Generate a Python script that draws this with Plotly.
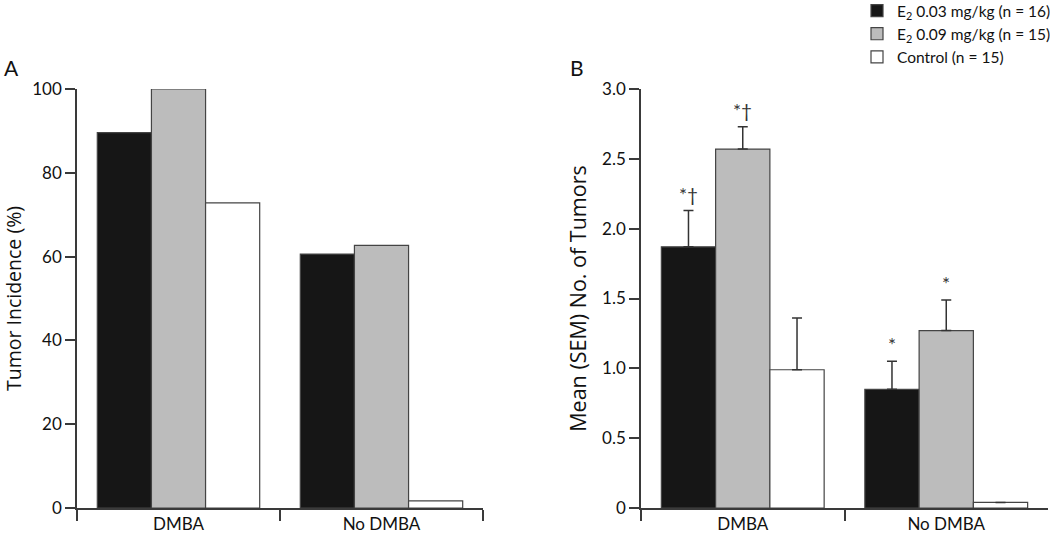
import plotly.graph_objects as go

# ---- data ----
categories = ["DMBA", "No DMBA"]
series_names = [
    "E<sub>2</sub> 0.03 mg/kg (n = 16)",
    "E<sub>2</sub> 0.09 mg/kg (n = 15)",
    "Control (n = 15)",
]
incidence_e2_low = [89.6, 60.6]
incidence_e2_high = [100.0, 62.7]
incidence_control = [72.8, 1.7]

tumors_e2_low = [1.87, 0.85]
tumors_e2_high = [2.57, 1.27]
tumors_control = [0.99, 0.04]

sem_e2_low = [0.26, 0.20]
sem_e2_high = [0.16, 0.22]
sem_control = [0.37, 0.0]

sig_e2_low = ["*†", "*"]
sig_e2_high = ["*†", "*"]
sig_control = ["", ""]

yA_ticks = [0, 20, 40, 60, 80, 100]
yA_ticktext = ["0", "20", "40", "60", "80", "100"]
yB_ticks = [0, 0.5, 1.0, 1.5, 2.0, 2.5, 3.0]
yB_ticktext = ["0", "0.5", "1.0", "1.5", "2.0", "2.5", "3.0"]

# ---- style ----
FONT = "Lato"
TFONT = "Open Sans"
colors = ["#161616", "#bcbcbc", "#ffffff"]
line_col = "#3a3a3a"
W, H = 1050, 536
ML, MR, MT, MB = 77, 2, 89, 28
PW, PH = W - ML - MR, H - MT - MB
BARGAP = 0.2


def fx(px):
    return (px - ML) / PW


def fy(py):
    return (H - MB - py) / PH


incidence = [incidence_e2_low, incidence_e2_high, incidence_control]
tumors = [tumors_e2_low, tumors_e2_high, tumors_control]
sems = [sem_e2_low, sem_e2_high, sem_control]
sigs = [sig_e2_low, sig_e2_high, sig_control]

fig = go.Figure()

for i in range(3):
    fig.add_trace(go.Bar(
        x=categories, y=incidence[i], name=series_names[i],
        marker=dict(color=colors[i], line=dict(color="#444444", width=1.2)),
        xaxis="x", yaxis="y", showlegend=True,
    ))
for i in range(3):
    fig.add_trace(go.Bar(
        x=categories, y=tumors[i], name=series_names[i],
        marker=dict(color=colors[i], line=dict(color="#444444", width=1.2)),
        error_y=dict(type="data", symmetric=False, array=sems[i],
                     arrayminus=[0] * len(sems[i]),
                     color="#333333", thickness=1.5, width=5),
        xaxis="x2", yaxis="y2", showlegend=False,
    ))

# significance markers above the error bars
bw = (1 - BARGAP) / 3
annotations = []
for i in range(3):
    for j, cat in enumerate(categories):
        if sigs[i][j]:
            annotations.append(dict(
                x=j + (i - 1) * bw, y=tumors[i][j] + sems[i][j],
                xref="x2", yref="y2", text=sigs[i][j], showarrow=False,
                yanchor="bottom", yshift=3,
                font=dict(family=FONT, size=19, color="#333333"),
            ))

annotations += [
    dict(x=fx(11), y=fy(68), xref="paper", yref="paper", text="A",
         showarrow=False, xanchor="center", yanchor="middle",
         font=dict(family=FONT, size=21, color="#111111")),
    dict(x=fx(577), y=fy(68), xref="paper", yref="paper", text="B",
         showarrow=False, xanchor="center", yanchor="middle",
         font=dict(family=FONT, size=21, color="#111111")),
]

common_x = dict(
    type="category", range=[-0.5, 1.5], tickson="boundaries",
    ticks="outside", ticklen=11, tickwidth=1.5, tickcolor=line_col,
    showline=True, linecolor=line_col, linewidth=1.5, showgrid=False,
    zeroline=False, tickfont=dict(family=FONT, size=17, color="#111111"),
    fixedrange=True,
)
common_y = dict(
    ticks="outside", ticklen=10, tickwidth=1.5, tickcolor=line_col,
    showline=True, linecolor=line_col, linewidth=1.5, showgrid=False,
    zeroline=False, tickfont=dict(family=FONT, size=17, color="#111111"),
    domain=[0, 1], fixedrange=True,
)

fig.update_layout(
    width=W, height=H, autosize=False,
    margin=dict(l=ML, r=MR, t=MT, b=MB, autoexpand=False),
    paper_bgcolor="white", plot_bgcolor="white",
    barmode="group", bargap=BARGAP, bargroupgap=0,
    font=dict(family=FONT, color="#111111"),
    xaxis=dict(domain=[0, fx(483)], anchor="y", **common_x),
    xaxis2=dict(domain=[fx(641), 1], anchor="y2", **common_x),
    yaxis=dict(range=[0, 100], tickvals=yA_ticks, ticktext=yA_ticktext,
               anchor="x",
               title=dict(text="Tumor Incidence (%)", standoff=10,
                          font=dict(family=TFONT, size=19.5, color="#111111")),
               **common_y),
    yaxis2=dict(range=[0, 3], tickvals=yB_ticks, ticktext=yB_ticktext,
                anchor="x2",
                title=dict(text="Mean (SEM) No. of Tumors", standoff=10,
                           font=dict(family=TFONT, size=21.5, color="#111111")),
                **common_y),
    legend=dict(x=fx(857), y=fy(-6), xanchor="left", yanchor="top",
                font=dict(family=FONT, size=15.5, color="#111111"),
                bgcolor="rgba(0,0,0,0)", tracegroupgap=0, itemclick=False),
    annotations=annotations,
    showlegend=True,
)

fig.write_html("out.html", config={"displayModeBar": False},
               post_script="document.body.style.margin='0px';")
